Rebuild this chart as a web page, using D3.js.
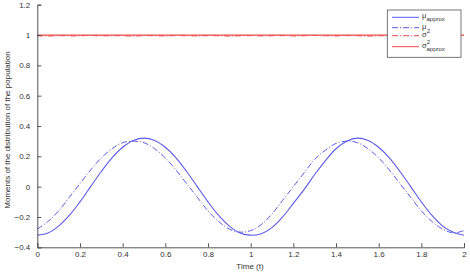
<!DOCTYPE html>
<html><head><meta charset="utf-8">
<script src="https://cdn.jsdelivr.net/npm/d3@7"></script>
<style>body{margin:0;background:#fff}svg{display:block}text{font-family:"Liberation Sans",Arial,sans-serif}</style>
</head><body><svg id="c" width="470" height="272"></svg>
<script>
const time = [0,0.05,0.1,0.15,0.2,0.25,0.3,0.35,0.4,0.45,0.5,0.55,0.6,0.65,0.7,0.75,0.8,0.85,0.9,0.95,1.0,
  1.05,1.1,1.15,1.2,1.25,1.3,1.35,1.4,1.45,1.5,1.55,1.6,1.65,1.7,1.75,1.8,1.85,1.9,1.95,2.0];
const muApprox = [-0.32,-0.305,-0.26,-0.19,-0.10,0.0,0.10,0.19,0.26,0.305,0.32,0.305,0.26,0.19,0.10,0.0,-0.10,-0.19,-0.26,-0.305,-0.32,
  -0.31,-0.27,-0.20,-0.11,-0.02,0.08,0.17,0.25,0.30,0.32,0.305,0.26,0.19,0.10,0.0,-0.10,-0.19,-0.26,-0.30,-0.32];
const mu = [-0.28,-0.23,-0.16,-0.07,0.02,0.11,0.19,0.25,0.29,0.30,0.29,0.25,0.19,0.11,0.02,-0.07,-0.16,-0.23,-0.28,-0.30,-0.29,
  -0.25,-0.18,-0.09,0.0,0.09,0.18,0.24,0.285,0.30,0.29,0.25,0.19,0.11,0.02,-0.07,-0.16,-0.23,-0.28,-0.305,-0.29];
const sigma2 = [0.995,0.993,0.996,0.994,0.995,0.997,0.994,0.996,0.995,0.993,0.996,0.995,0.994,0.996,0.995,0.994,0.996,0.995,0.993,0.995,0.996,
  0.994,0.995,0.996,0.994,0.995,0.997,0.995,0.994,0.996,0.995,0.993,0.995,0.996,0.994,0.995,0.996,0.994,0.995,0.996,0.995];
const sigma2Approx = [1,1,1,1,1,1,1,1,1,1,1,1,1,1,1,1,1,1,1,1,1,1,1,1,1,1,1,1,1,1,1,1,1,1,1,1,1,1,1,1,1];
const xTicks = [0,0.2,0.4,0.6,0.8,1,1.2,1.4,1.6,1.8,2];
const yTicks = [-0.4,-0.2,0,0.2,0.4,0.6,0.8,1,1.2];

const svg = d3.select("#c");
const x = d3.scaleLinear().domain([0,2]).range([37.3,464]);
const y = d3.scaleLinear().domain([-0.4,1.2]).range([247.3,4.7]);
const blue = "#5b5be6", red = "#ee4b4b";

const g = svg.append("g");
const line = arr => d3.line().x((d,i)=>x(time[i])).y(d=>y(d)).curve(d3.curveCatmullRom)(arr);

g.append("path").attr("d",line(sigma2Approx)).attr("fill","none").attr("stroke",red).attr("stroke-width",1.2);
g.append("path").attr("d",line(sigma2)).attr("fill","none").attr("stroke",red).attr("stroke-width",1).attr("stroke-dasharray","6,2,1,2");
g.append("path").attr("d",line(muApprox)).attr("fill","none").attr("stroke",blue).attr("stroke-width",1.1);
g.append("path").attr("d",line(mu)).attr("fill","none").attr("stroke",blue).attr("stroke-width",1).attr("stroke-dasharray","6,2,1,2");

const axisColor = "#555";
const xa = svg.append("g").attr("transform","translate(0,247.3)")
  .call(d3.axisBottom(x).tickValues(xTicks).tickSize(-4).tickPadding(4).tickFormat(d3.format("")));
const ya = svg.append("g").attr("transform","translate(37.3,0)")
  .call(d3.axisLeft(y).tickValues(yTicks).tickSize(-4).tickPadding(7).tickFormat(d3.format("")));
[xa,ya].forEach(a=>{
  a.select(".domain").attr("stroke",axisColor).attr("stroke-width",1);
  a.selectAll(".tick line").attr("stroke",axisColor);
  a.selectAll(".tick text").attr("fill","#333").attr("font-size",8).attr("font-family","Liberation Sans, Arial, sans-serif");
});

svg.append("text").attr("x",250).attr("y",268.5).attr("text-anchor","middle").attr("font-size",8).attr("fill","#333").text("Time (t)");
svg.append("text").attr("transform","translate(10,130) rotate(-90)").attr("text-anchor","middle").attr("font-size",8).attr("fill","#333").text("Moments of the distribution of the population");

// legend
const lg = svg.append("g");
lg.append("rect").attr("x",387.3).attr("y",10).attr("width",73.7).attr("height",47.3).attr("fill","#fff").attr("stroke","#555").attr("stroke-width",0.8);
const items = [
  {c:blue,dash:null,main:"\u03bc",sub:"approx",sup:null,yy:17.3},
  {c:blue,dash:"6,2,1,2",main:"\u03bc",sub:null,sup:null,yy:27.7},
  {c:red,dash:"6,2,1,2",main:"\u03c3",sub:null,sup:"2",yy:35.7},
  {c:red,dash:null,main:"\u03c3",sub:"approx",sup:"2",yy:46.7}
];
items.forEach(it=>{
  lg.append("line").attr("x1",392).attr("x2",419).attr("y1",it.yy).attr("y2",it.yy).attr("stroke",it.c).attr("stroke-width",1).attr("stroke-dasharray",it.dash);
  const t = lg.append("text").attr("x",422).attr("y",it.yy+1).attr("font-size",7.5).attr("fill","#333");
  t.append("tspan").text(it.main);
  if(it.sup){ t.append("tspan").attr("dy",-3.5).attr("font-size",6).text(it.sup); }
  if(it.sub){ t.append("tspan").attr("x",426.5).attr("dy",it.sup?7:3).attr("font-size",6).text(it.sub); }
});
</script></body></html>
